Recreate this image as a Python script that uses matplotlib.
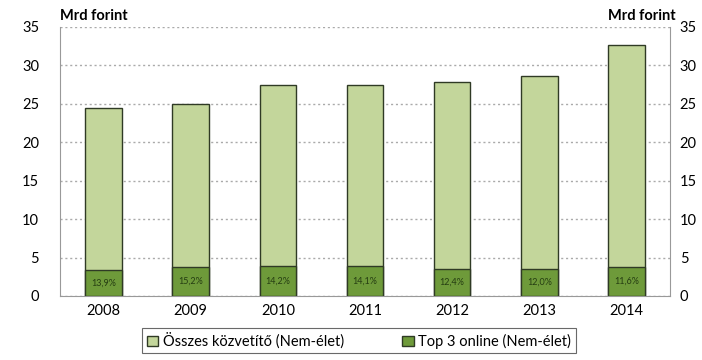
import matplotlib.pyplot as plt
import numpy as np

plt.rcParams['font.family'] = ['Lato', 'DejaVu Sans']

years = ['2008', '2009', '2010', '2011', '2012', '2013', '2014']
total = [24.5, 25.0, 27.5, 27.5, 27.9, 28.6, 32.7]
top3 = [3.4, 3.8, 3.9, 3.9, 3.45, 3.45, 3.8]
pct_labels = ['13,9%', '15,2%', '14,2%', '14,1%', '12,4%', '12,0%', '11,6%']

light = '#c3d69b'
dark = '#6e9a3a'

fig = plt.figure(figsize=(7.02, 3.60), dpi=100)
ax = fig.add_axes([0.0855, 0.178, 0.869, 0.747])

x = np.arange(len(years))
w = 0.42
ax.bar(x, total, w, color=light, edgecolor='#2f3a25', linewidth=1.0,
       label='Összes közvetítő (Nem-élet)', zorder=2)
ax.bar(x, top3, w, color=dark, edgecolor='#2f3a25', linewidth=1.0,
       label='Top 3 online (Nem-élet)', zorder=3)
for xi, v, t in zip(x, top3, pct_labels):
    ax.text(xi, v / 2, t, ha='center', va='center', fontsize=6.5,
            color='#253d12', zorder=4)

ax.set_xlim(-0.5, len(years) - 0.5)
ax.set_ylim(0, 35)
ax.set_yticks(range(0, 36, 5))
ax.set_xticks(x)
ax.set_xticklabels(years, fontsize=10.5)
ax.tick_params(axis='y', labelsize=10.5, length=0, pad=15)
ax.tick_params(axis='x', length=0, pad=6)
ax.yaxis.grid(True, linestyle=(0, (1.5, 2)), color='#aaaaaa', linewidth=1)
ax.set_axisbelow(True)
for s in ['top', 'right']:
    ax.spines[s].set_visible(False)
ax.spines['left'].set_color('#999999')
ax.spines['bottom'].set_color('#999999')

ax2 = ax.twinx()
ax2.set_ylim(0, 35)
ax2.set_yticks(range(0, 36, 5))
ax2.tick_params(axis='y', labelsize=10.5, length=0, pad=7)
for s in ['top', 'left', 'bottom']:
    ax2.spines[s].set_visible(False)
ax2.spines['right'].set_color('#999999')

fig.text(0.086, 0.955, 'Mrd forint', fontsize=10.5, fontweight='bold', ha='left', va='center')
fig.text(0.963, 0.955, 'Mrd forint', fontsize=10.5, fontweight='bold', ha='right', va='center')

leg = ax.legend(loc='upper center', bbox_to_anchor=(0.49, -0.12), ncol=2,
                fontsize=10.5, frameon=True, fancybox=False, edgecolor='#444444',
                handlelength=0.8, handletextpad=0.3, columnspacing=4.0,
                borderpad=0.3, borderaxespad=0)
leg.get_frame().set_linewidth(0.8)

fig.savefig('out.png', dpi=100)
